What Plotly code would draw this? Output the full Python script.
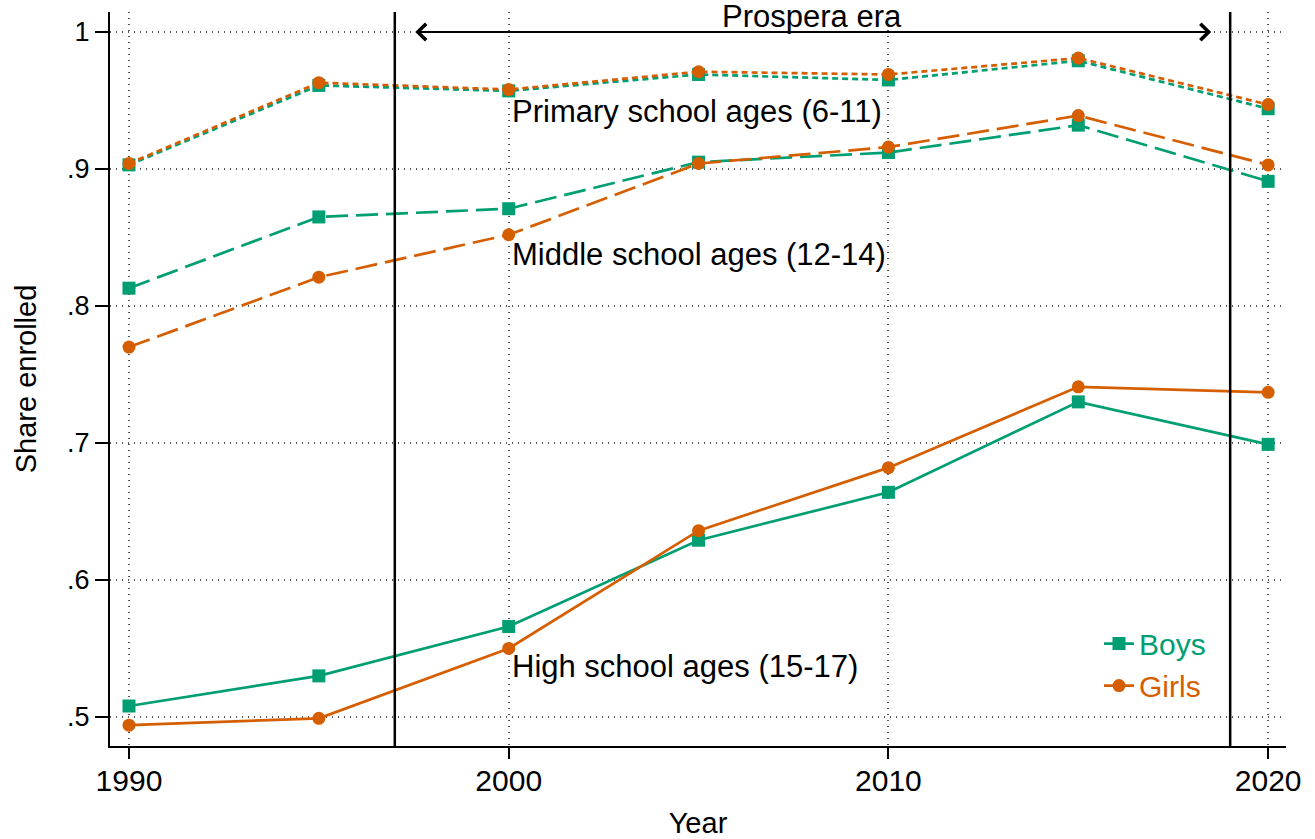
import plotly.graph_objects as go

# Enrollment shares by age group and sex
years = [1990, 1995, 2000, 2005, 2010, 2015, 2020]
primary_boys = [0.903, 0.961, 0.957, 0.969, 0.965, 0.979, 0.944]
primary_girls = [0.904, 0.963, 0.958, 0.971, 0.969, 0.981, 0.947]
middle_boys = [0.813, 0.865, 0.871, 0.905, 0.912, 0.932, 0.891]
middle_girls = [0.770, 0.821, 0.852, 0.904, 0.916, 0.939, 0.903]
high_boys = [0.508, 0.530, 0.566, 0.629, 0.664, 0.730, 0.699]
high_girls = [0.494, 0.499, 0.550, 0.636, 0.682, 0.741, 0.737]

group_labels = ["Primary school ages (6-11)", "Middle school ages (12-14)", "High school ages (15-17)"]
label_y = [0.9423, 0.8376, 0.537]
era_start, era_end = 1997, 2019
era_label = "Prospera era"

GREEN = "#009E73"
ORANGE = "#D55E00"
FONT = "Liberation Sans, Arial, Helvetica, sans-serif"

fig = go.Figure()

series = [
    (primary_boys, primary_girls, "6px,4px"),
    (middle_boys, middle_girls, "22px,8px"),
    (high_boys, high_girls, "solid"),
]
for boys, girls, dash in series:
    legend = dash == "solid"
    fig.add_trace(go.Scatter(
        x=years, y=boys, mode="lines+markers",
        name=f'<span style="color:{GREEN}">Boys</span>', showlegend=legend,
        line=dict(color=GREEN, width=2.7, dash=dash),
        marker=dict(symbol="square", size=13, color=GREEN),
    ))
for boys, girls, dash in series:
    legend = dash == "solid"
    fig.add_trace(go.Scatter(
        x=years, y=girls, mode="lines+markers",
        name=f'<span style="color:{ORANGE}">Girls</span>', showlegend=legend,
        line=dict(color=ORANGE, width=2.7, dash=dash),
        marker=dict(symbol="circle", size=13, color=ORANGE),
    ))

# Program era boundaries
for xv in (era_start, era_end):
    fig.add_shape(type="line", xref="x", yref="paper", x0=xv, x1=xv, y0=0, y1=1,
                  line=dict(color="black", width=2.5))

# Double-headed arrow spanning the era
fig.add_annotation(x=era_end - 0.5, y=1.0, ax=era_start + 0.5, ay=1.0,
                   xref="x", yref="y", axref="x", ayref="y", text="",
                   showarrow=True, arrowside="end+start", arrowhead=4, startarrowhead=4,
                   arrowsize=1.6, startarrowsize=1.6, arrowwidth=2, arrowcolor="black")
fig.add_annotation(x=(era_start + era_end) / 2, y=1.011, xref="x", yref="y",
                   text=era_label, showarrow=False, xanchor="center", yanchor="middle",
                   font=dict(size=31, color="black", family=FONT))

for txt, yv in zip(group_labels, label_y):
    fig.add_annotation(x=2000, y=yv, xref="x", yref="y", text=txt, showarrow=False,
                       xanchor="left", yanchor="middle", xshift=1,
                       font=dict(size=31, color="black", family=FONT))

fig.update_layout(
    width=1315, height=839,
    margin=dict(l=110, r=29, t=12, b=93),
    paper_bgcolor="white", plot_bgcolor="white",
    font=dict(family=FONT, color="black"),
    showlegend=True,
    legend=dict(x=0.841, y=0.175, xanchor="left", yanchor="top",
                bgcolor="rgba(0,0,0,0)", font=dict(size=30, family=FONT),
                itemwidth=30, tracegroupgap=0),
    xaxis=dict(
        range=[1989.5, 2020.47], tickvals=[1990, 2000, 2010, 2020],
        ticks="outside", ticklen=11, tickwidth=2, tickcolor="black",
        tickfont=dict(size=30), ticklabelstandoff=-4,
        showline=True, linecolor="black", linewidth=2,
        showgrid=True, gridcolor="#555555", gridwidth=1.6, griddash="1px,5px",
        zeroline=False, mirror=False, automargin=False,
        title=dict(text="Year", font=dict(size=29), standoff=22),
    ),
    yaxis=dict(
        range=[0.4788, 1.0146], tickvals=[0.5, 0.6, 0.7, 0.8, 0.9, 1.0],
        ticktext=[".5", ".6", ".7", ".8", ".9", "1"],
        ticks="outside", ticklen=13, tickwidth=2, tickcolor="black",
        tickfont=dict(size=27), showline=True, linecolor="black", linewidth=2,
        showgrid=True, gridcolor="#555555", gridwidth=1.6, griddash="1px,5px",
        zeroline=False, mirror=False, automargin=False,
        title=dict(text="Share enrolled", font=dict(size=29), standoff=22),
    ),
)

fig.write_html("out.html")
